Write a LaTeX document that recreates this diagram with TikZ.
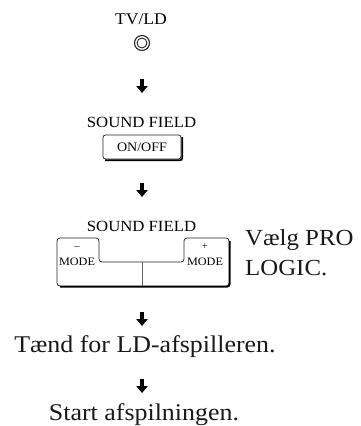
\documentclass[tikz,border=0pt]{standalone}
\usepackage{fontspec}
\setmainfont{Liberation Serif}[FakeStretch=1.08]
\usetikzlibrary{calc}
\tikzset{
  smalltxt/.style={inner sep=0pt, font=\fontsize{15.5}{16}\selectfont},
  bigtxt/.style={inner sep=0pt, font=\fontsize{24}{26}\selectfont, text=black!90},
  sidetxt/.style={inner sep=0pt, font=\fontsize{23}{25}\selectfont, text=black!90},
  modetxt/.style={inner sep=0pt, font=\fontsize{11.3}{12}\selectfont},
  signtxt/.style={inner sep=0pt, font=\fontsize{10}{10}\selectfont},
  keyline/.style={line width=0.8pt, draw=black!85},
  shadowline/.style={line width=1.7pt, draw=black},
  downarrow/.pic={
    \fill[black] (-2.2,-7) rectangle (2.2,0.5);
    \fill[black] (-5.8,0) -- (5.8,0) -- (0,7) -- cycle;
  }
}
\begin{document}
\begin{tikzpicture}[x=1pt,y=-1pt]
\useasboundingbox (0,0) rectangle (360,426);
% TV/LD key
\node[inner sep=0pt, font=\fontsize{16.3}{17}\selectfont, anchor=base] (tvld) at (141,24.5) {TV/LD};
\coordinate (tvbtn) at (142,43);
\draw[keyline, line width=1.1pt] (tvbtn) circle (7.5);
\draw[keyline, line width=0.9pt] (tvbtn) circle (5);
\pic at (142,86) {downarrow};
% SOUND FIELD ON/OFF
\node[smalltxt, anchor=base] (sf1) at (141.5,127) {SOUND FIELD};
\node[keyline, draw, rounded corners=2.5pt, minimum width=78pt, minimum height=24pt, inner sep=0pt] (onoff) at (142,147) {};
\node[inner sep=0pt, font=\fontsize{13}{14}\selectfont, anchor=base] (onofftxt) at (142,151.5) {ON/OFF};
\draw[shadowline, rounded corners=2pt] ($(onoff.north east)+(0.8,2.5)$) -- ($(onoff.south east)+(0.8,0.8)$) -- ($(onoff.south west)+(2.5,0.8)$);
\pic at (142,190) {downarrow};
% SOUND FIELD MODE keys
\node[smalltxt, anchor=base] (sf2) at (141.5,231) {SOUND FIELD};
\draw[keyline, rounded corners=3pt]
  (57,286) -- (57,238) -- (99,238) -- (99,262) -- (184,262) -- (184,238) -- (229,238) -- (229,286) -- cycle;
\draw[line width=0.7pt, draw=black!60] (142,262) -- (142,286);
\draw[shadowline, rounded corners=3pt] (229.8,241) -- (229.8,286.8) -- (60,286.8);
\node[signtxt, anchor=base] (lminus) at (77,249) {–};
\node[modetxt, anchor=base] (lmode) at (77,265) {MODE};
\node[signtxt, anchor=base] (rplus) at (205,249) {+};
\node[modetxt, anchor=base] (rmode) at (205,265) {MODE};
\node[sidetxt, anchor=base west] (valg) at (245,245) {Vælg PRO};
\node[sidetxt, anchor=base west] (logic) at (245,275) {LOGIC.};
\pic at (142,319) {downarrow};
% final steps
\node[bigtxt, anchor=base] (taend) at (145,352) {Tænd for LD-afspilleren.};
\pic at (142,386) {downarrow};
\node[bigtxt, anchor=base] (start) at (144,420) {Start afspilningen.};
\end{tikzpicture}
\end{document}
